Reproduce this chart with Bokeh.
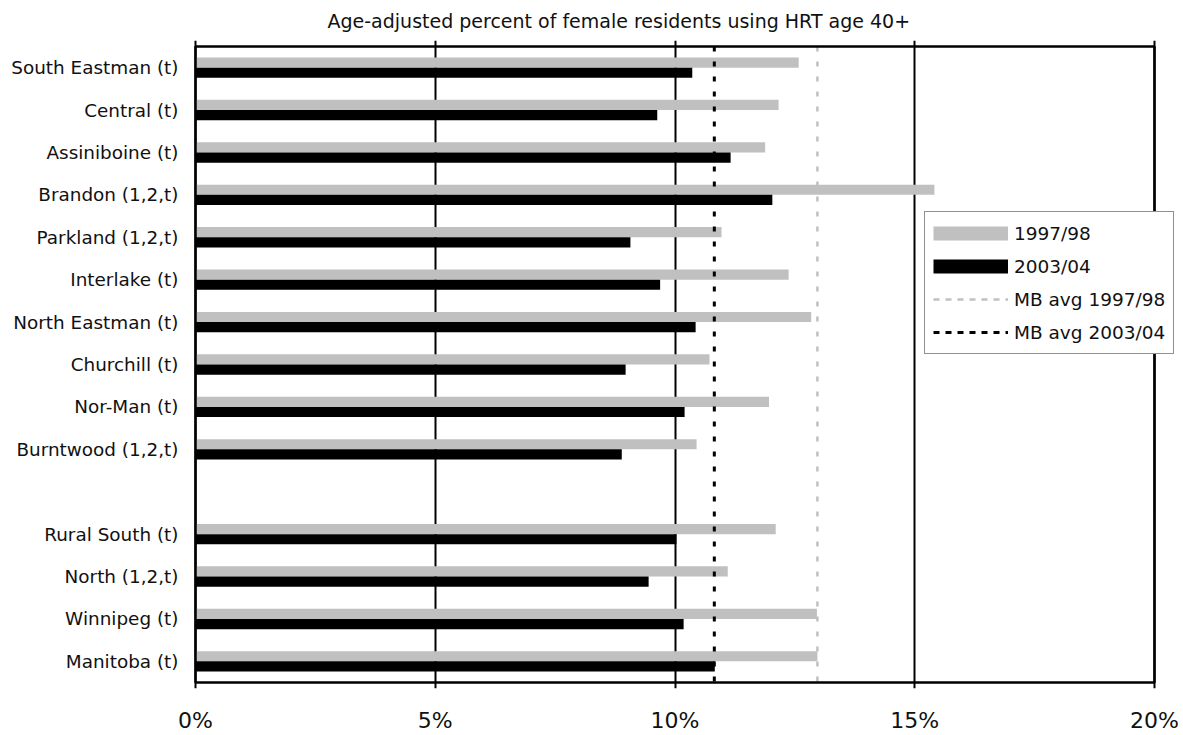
from bokeh.plotting import figure
from bokeh.models import (FactorRange, Range1d, FixedTicker, Legend, LegendItem,
                          ColumnDataSource)
from bokeh.transform import dodge
from bokeh.embed import file_html
from bokeh.resources import INLINE

# ---- data ----
regions = ["South Eastman (t)", "Central (t)", "Assiniboine (t)", "Brandon (1,2,t)",
           "Parkland (1,2,t)", "Interlake (t)", "North Eastman (t)", "Churchill (t)",
           "Nor-Man (t)", "Burntwood (1,2,t)", " ",
           "Rural South (t)", "North (1,2,t)", "Winnipeg (t)", "Manitoba (t)"]
hrt_1997 = [12.58, 12.16, 11.88, 15.41, 10.97, 12.37, 12.84, 10.72, 11.96, 10.45, None,
            12.10, 11.10, 12.96, 12.97]
hrt_2003 = [10.36, 9.63, 11.16, 12.03, 9.07, 9.69, 10.43, 8.97, 10.20, 8.89, None,
            10.03, 9.45, 10.18, 10.83]
mb_avg_1997 = 12.97
mb_avg_2003 = 10.82
x_ticks = [0, 5, 10, 15, 20]
x_tick_labels = ["0%", "5%", "10%", "15%", "20%"]
title_text = "Age-adjusted percent of female residents using HRT age 40+"

FONT = "DejaVu Sans"
GRAY = "#c0c0c0"
NAN = float("nan")

rows = [(r, a, b) for r, a, b in zip(regions, hrt_1997, hrt_2003) if a is not None]
src = ColumnDataSource(dict(region=[r[0] for r in rows],
                            v97=[r[1] for r in rows],
                            v03=[r[2] for r in rows]))

# layout: pixels per percent, a little slack around the 0-20% box so borders aren't clipped,
# and extra room on the right so the legend box can overhang the chart border
PX = (1154 - 195) / 20.0
x_start = x_ticks[0] - 3 / PX
x_end = x_ticks[-1] + 27 / PX

p = figure(width=1181, height=735, output_backend="svg", toolbar_location=None,
           y_range=FactorRange(factors=list(reversed(regions)), range_padding=0.14,
                               range_padding_units="absolute"),
           x_range=Range1d(x_start, x_end),
           min_border_left=192, min_border_right=0, min_border_top=40,
           min_border_bottom=45)

p.hbar(y=dodge("region", 0.12, range=p.y_range), right="v97", left=0, height=0.24,
       fill_color=GRAY, line_color=None, source=src)
p.hbar(y=dodge("region", -0.12, range=p.y_range), right="v03", left=0, height=0.24,
       fill_color="black", line_color=None, source=src)

top_edge = (regions[0], 0.5)
bottom_edge = (regions[-1], -0.5)
p.line(x=[mb_avg_1997, mb_avg_1997], y=[top_edge, bottom_edge],
       line_color=GRAY, line_width=2.5, line_dash="5 10")
p.line(x=[mb_avg_2003, mb_avg_2003], y=[top_edge, bottom_edge],
       line_color="black", line_width=3, line_dash="5 10")

# chart border (0% .. 20%)
p.quad(left=[x_ticks[0]], right=[x_ticks[-1]], top=[top_edge], bottom=[bottom_edge],
       fill_color=None, line_color="black", line_width=2.5)

# legend-only renderers (a single NaN point draws nothing in the plot)
r1 = p.line(x=[NAN], y=[regions[0]], line_color=GRAY, line_width=14)
r2 = p.line(x=[NAN], y=[regions[0]], line_color="black", line_width=14)
r3 = p.line(x=[NAN], y=[regions[0]], line_color=GRAY, line_width=2.5, line_dash="6 6")
r4 = p.line(x=[NAN], y=[regions[0]], line_color="black", line_width=3, line_dash="6 6")

legend = Legend(items=[LegendItem(label="1997/98", renderers=[r1]),
                       LegendItem(label="2003/04", renderers=[r2]),
                       LegendItem(label="MB avg 1997/98", renderers=[r3]),
                       LegendItem(label="MB avg 2003/04", renderers=[r4])],
                location=(732, 334), glyph_width=75, glyph_height=26, label_height=26,
                label_standoff=6, spacing=7, padding=8, margin=0,
                border_line_color="#222222", border_line_width=1,
                background_fill_color="white", background_fill_alpha=1.0,
                label_text_font=FONT, label_text_font_size="18.5px",
                label_text_color="#111111")
p.add_layout(legend, "center")

# axes
p.xaxis.ticker = FixedTicker(ticks=x_ticks)
p.xaxis.major_label_overrides = {t: l for t, l in zip(x_ticks, x_tick_labels)}
p.xaxis.axis_line_color = None
p.xaxis.major_tick_line_color = None
p.xaxis.minor_tick_line_color = None
p.xaxis.major_tick_out = 0
p.xaxis.major_label_standoff = 19
p.xaxis.major_label_text_font = FONT
p.xaxis.major_label_text_font_size = "22px"
p.xaxis.major_label_text_color = "#111111"

p.yaxis.axis_line_color = None
p.yaxis.major_tick_line_color = None
p.yaxis.major_tick_out = 0
p.yaxis.major_label_standoff = 14
p.yaxis.major_label_text_font = FONT
p.yaxis.major_label_text_font_size = "18.4px"
p.yaxis.major_label_text_color = "#111111"

p.xgrid.ticker = FixedTicker(ticks=x_ticks)
p.xgrid.grid_line_color = "black"
p.xgrid.grid_line_width = 2
p.ygrid.grid_line_color = None

p.outline_line_color = None
p.background_fill_color = "white"
p.border_fill_color = "white"

p.title.text = title_text
p.title.align = "left"
p.title.offset = 132 + 3
p.title.standoff = 13
p.title.vertical_align = "top"
p.title.text_font = FONT
p.title.text_font_size = "19px"
p.title.text_font_style = "normal"
p.title.text_color = "#111111"

open("out.html", "w").write(file_html(p, INLINE))
